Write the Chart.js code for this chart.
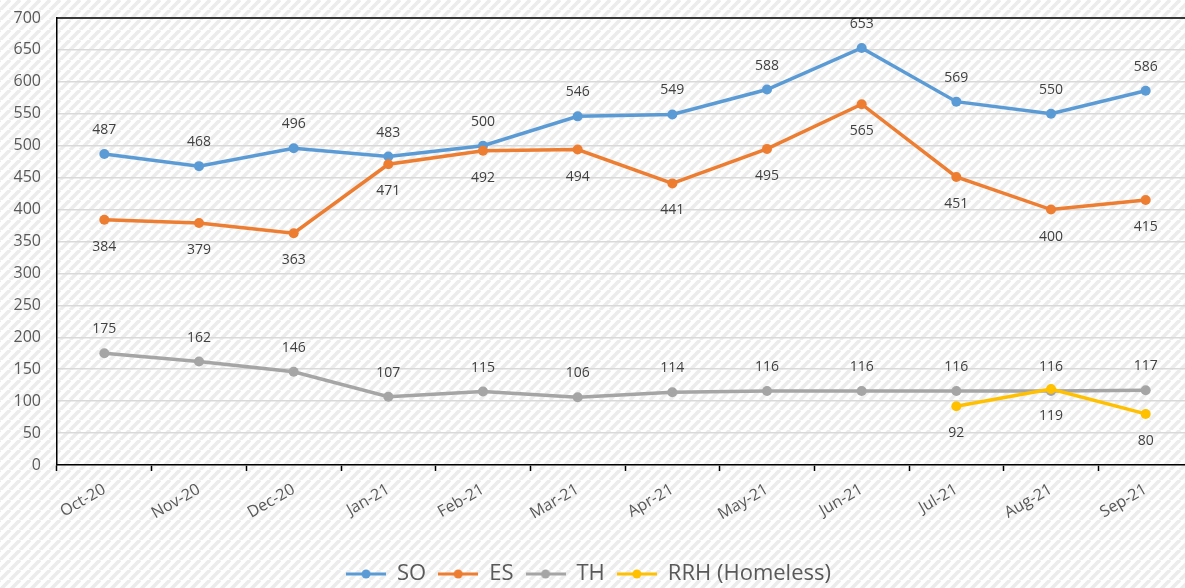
<!DOCTYPE html>
<html>
<head>
<meta charset="utf-8">
<script src="https://cdn.jsdelivr.net/npm/chart.js@4"></script>
<style>
  html, body { margin: 0; padding: 0; background: #fff; overflow: hidden; }
  #wrap { width: 1193px; height: 588px; }
</style>
</head>
<body>
<div id="wrap"><canvas id="grafica"></canvas></div>
<script>
// Datos de la gráfica
const meses = ["Oct-20", "Nov-20", "Dec-20", "Jan-21", "Feb-21", "Mar-21", "Apr-21", "May-21", "Jun-21", "Jul-21", "Aug-21", "Sep-21"];
const datosSO = [487, 468, 496, 483, 500, 546, 549, 588, 653, 569, 550, 586];
const datosES = [384, 379, 363, 471, 492, 494, 441, 495, 565, 451, 400, 415];
const datosTH = [175, 162, 146, 107, 115, 106, 114, 116, 116, 116, 116, 117];
const datosRRH = [null, null, null, null, null, null, null, null, null, 92, 119, 80];
const ticksY = [0, 50, 100, 150, 200, 250, 300, 350, 400, 450, 500, 550, 600, 650, 700];

const fuente = "'Open Sans', sans-serif";

// Fondo rayado (como el de Excel)
function patronRayado() {
    const s = 10;
    const c = document.createElement("canvas");
    c.width = s; c.height = s;
    const x = c.getContext("2d");
    x.fillStyle = "#ffffff";
    x.fillRect(0, 0, s, s);
    x.strokeStyle = "#ececec";
    x.lineWidth = 3.6;
    for (let k = -1; k <= 1; k++) {
        x.beginPath();
        x.moveTo(k * s, s);
        x.lineTo(k * s + s, 0);
        x.stroke();
    }
    return c;
}

// Icono de la leyenda: línea con punto
function iconoLeyenda(color) {
    const c = document.createElement("canvas");
    c.width = 40; c.height = 12;
    const x = c.getContext("2d");
    x.strokeStyle = color;
    x.lineWidth = 3;
    x.beginPath();
    x.moveTo(0, 6); x.lineTo(40, 6);
    x.stroke();
    x.fillStyle = color;
    x.beginPath();
    x.arc(20, 6, 4.5, 0, Math.PI * 2);
    x.fill();
    return c;
}

const pluginFondo = {
    id: "fondo",
    afterLayout(chart) {
        // el lienzo es más ancho que la ventana: centrar la leyenda en lo visible
        chart.legend.left -= 8;
        chart.legend.right -= 8;
    },
    beforeDraw(chart) {
        const ctx = chart.ctx;
        ctx.save();
        ctx.fillStyle = ctx.createPattern(patronRayado(), "repeat");
        ctx.fillRect(0, 0, chart.width, chart.height);
        ctx.restore();
    },
    afterDraw(chart) {
        // borde superior del área de la gráfica
        const a = chart.chartArea;
        const ctx = chart.ctx;
        ctx.save();
        ctx.strokeStyle = "#000";
        ctx.lineWidth = 1.5;
        ctx.beginPath();
        ctx.moveTo(a.left, a.top);
        ctx.lineTo(chart.width, a.top);
        ctx.stroke();
        ctx.restore();
    }
};

// Etiquetas de valores (arriba o abajo del punto)
const pluginEtiquetas = {
    id: "etiquetas",
    afterDatasetsDraw(chart) {
        const ctx = chart.ctx;
        ctx.save();
        ctx.font = "14px " + fuente;
        ctx.fillStyle = "#404040";
        ctx.textAlign = "center";
        ctx.textBaseline = "middle";
        chart.data.datasets.forEach((ds, i) => {
            const meta = chart.getDatasetMeta(i);
            meta.data.forEach((p, j) => {
                const v = ds.data[j];
                if (v === null) return;
                const dy = ds.posEtiqueta === "arriba" ? -24 : 27;
                ctx.fillText(String(v), p.x, p.y + dy);
            });
        });
        ctx.restore();
    }
};

function serie(nombre, datos, color, pos, orden) {
    return {
        label: nombre,
        data: datos,
        order: orden,
        borderColor: color,
        backgroundColor: color,
        borderWidth: 3.5,
        pointRadius: 5,
        pointHoverRadius: 5,
        pointBorderWidth: 0,
        pointStyle: "circle",
        tension: 0,
        spanGaps: false,
        clip: false,
        posEtiqueta: pos,
        iconoLeyenda: iconoLeyenda(color)
    };
}

new Chart(document.querySelector("#grafica"), {
    type: "line",
    data: {
        labels: meses,
        datasets: [
            serie("SO", datosSO, "#5B9BD5", "arriba", 3),
            serie("ES", datosES, "#ED7D31", "abajo", 2),
            serie("TH", datosTH, "#A5A5A5", "arriba", 1),
            serie("RRH (Homeless)", datosRRH, "#FFC000", "abajo", 0)
        ]
    },
    options: {
        responsive: true,
        maintainAspectRatio: false,
        animation: false,
        layout: { autoPadding: false, padding: { top: 18, right: 0, left: 0, bottom: -7 } },
        scales: {
            x: {
                offset: true,
                grid: {
                    display: true,
                    offset: true,
                    drawOnChartArea: false,
                    drawTicks: true,
                    tickLength: 6,
                    tickWidth: 1.5,
                    tickColor: "#000"
                },
                border: { color: "#000", width: 1.5 },
                ticks: {
                    color: "#595959",
                    font: { family: fuente, size: 16 },
                    minRotation: 30,
                    maxRotation: 30,
                    padding: 9,
                    autoSkip: false
                },
                afterFit(s) {
                    s.height = 86;
                    s.paddingLeft = 0;
                    s.paddingRight = 0;
                }
            },
            y: {
                min: 0,
                max: 700,
                afterBuildTicks(s) { s.ticks = ticksY.map(v => ({ value: v })); },
                grid: {
                    color: "#d9d9d9",
                    lineWidth: 1.5,
                    drawTicks: false
                },
                border: { color: "#000", width: 1.5 },
                ticks: {
                    color: "#595959",
                    font: { family: fuente, size: 16 },
                    padding: 16
                },
                afterFit(s) {
                    s.width = 57;
                    s.paddingTop = 0;
                    s.paddingBottom = 0;
                }
            }
        },
        plugins: {
            legend: {
                position: "bottom",
                labels: {
                    color: "#595959",
                    font: { family: fuente, size: 22 },
                    usePointStyle: true,
                    pointStyleWidth: 40,
                    boxWidth: 40,
                    boxHeight: 12,
                    padding: 12,
                    generateLabels(chart) {
                        return chart.data.datasets.map((ds, i) => ({
                            text: ds.label,
                            fillStyle: ds.borderColor,
                            strokeStyle: ds.borderColor,
                            fontColor: "#595959",
                            lineWidth: 0,
                            pointStyle: ds.iconoLeyenda,
                            hidden: false,
                            datasetIndex: i
                        }));
                    }
                }
            },
            tooltip: { enabled: false }
        }
    },
    plugins: [pluginFondo, pluginEtiquetas]
});
</script>
</body>
</html>
